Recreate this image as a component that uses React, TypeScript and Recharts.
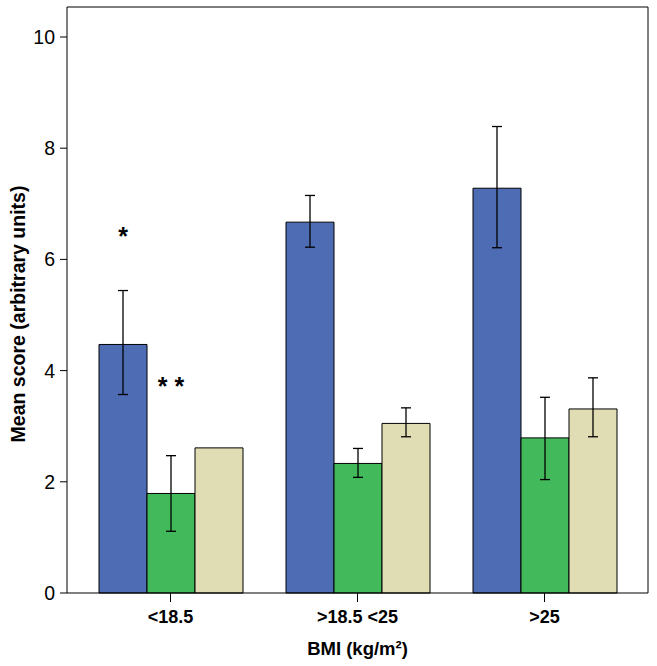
import { Bar, BarChart, ErrorBar, LabelList, XAxis, YAxis } from "recharts";

const groups = ["<18.5", ">18.5 <25", ">25"];

const blueMean = [4.47, 6.67, 7.28];
const blueLow = [3.57, 6.22, 6.21];
const blueHigh = [5.44, 7.15, 8.39];

const greenMean = [1.79, 2.33, 2.79];
const greenLow = [1.11, 2.08, 2.04];
const greenHigh = [2.47, 2.6, 3.52];

// first beige bar has no error bar
const beigeMean = [2.61, 3.05, 3.31];
const beigeLow = [null, 2.81, 2.81];
const beigeHigh = [null, 3.33, 3.87];

// significance markers, placed at a data value
const blueMark = ["*", "", ""];
const blueMarkAt = [6.51, 0, 0];
const greenMark = ["* *", "", ""];
const greenMarkAt = [3.82, 0, 0];

const yTicks = [0, 2, 4, 6, 8, 10];

const errOf = (mean: number, lo: number | null, hi: number | null) =>
  lo == null || hi == null ? undefined : [mean - lo, hi - mean];

const data = groups.map((g, i) => ({
  group: g,
  blue: blueMean[i],
  blueErr: errOf(blueMean[i], blueLow[i], blueHigh[i]),
  green: greenMean[i],
  greenErr: errOf(greenMean[i], greenLow[i], greenHigh[i]),
  beige: beigeMean[i],
  beigeErr: errOf(beigeMean[i], beigeLow[i], beigeHigh[i]),
  blueMark: blueMark[i],
  greenMark: greenMark[i],
}));

const FONT = "'Liberation Sans', Arial, sans-serif";

function markLabel(means: number[], at: number[]) {
  return (props: any) => {
    const { index, value } = props;
    const x = props.x ?? props.viewBox?.x;
    const y = props.y ?? props.viewBox?.y;
    const width = props.width ?? props.viewBox?.width;
    const height = props.height ?? props.viewBox?.height;
    if (!value || index == null) return null;
    const perUnit = height / means[index];
    const cy = y + height - at[index] * perUnit;
    return (
      <text x={x + width / 2} y={cy + 14} textAnchor="middle" fontFamily={FONT} fontWeight="bold" fontSize={25} fill="#000">
        {value}
      </text>
    );
  };
}

function YLabel(props: any) {
  const vb = props.viewBox;
  const cx = 18;
  const cy = vb.y + vb.height / 2 + 14;
  return (
    <text x={cx} y={cy} transform={`rotate(-90 ${cx} ${cy})`} textAnchor="middle" dominantBaseline="central" fontFamily={FONT} fontWeight="bold" fontSize={19.5} fill="#000">
      Mean score (arbitrary units)
    </text>
  );
}

function XLabel(props: any) {
  const vb = props.viewBox;
  return (
    <text x={vb.x + vb.width / 2} y={655} textAnchor="middle" fontFamily={FONT} fontWeight="bold" fontSize={18.5} fill="#000">
      BMI (kg/m²)
    </text>
  );
}

export default function App() {
  return (
    <div style={{ position: "absolute", left: 0, top: 0, background: "#fff" }}>
      <BarChart width={657} height={666} data={data} margin={{ top: 6, right: 8, bottom: 0, left: 0 }} barSize={48} barGap={0}>
        <XAxis
          dataKey="group"
          height={73}
          padding={{ left: 10, right: 10 }}
          stroke="#000"
          tickSize={9}
          tickMargin={8}
          tick={{ fill: "#000", fontSize: 18, fontWeight: "bold", fontFamily: FONT }}
          label={<XLabel />}
        />
        <XAxis xAxisId="top" dataKey="group" orientation="top" height={1} tick={false} tickLine={false} stroke="#000" padding={{ left: 10, right: 10 }} />
        <YAxis
          domain={[0, 10]}
          ticks={yTicks}
          padding={{ top: 30 }}
          width={67}
          stroke="#000"
          tickSize={7}
          tickMargin={5}
          tick={{ fill: "#000", fontSize: 19.5, fontFamily: FONT }}
          label={<YLabel />}
        />
        <YAxis yAxisId="right" orientation="right" domain={[0, 10]} width={1} tick={false} tickLine={false} stroke="#000" />
        <Bar dataKey="blue" fill="#4E6CB4" stroke="#000" strokeWidth={1} isAnimationActive={false}>
          <ErrorBar dataKey="blueErr" width={5} stroke="#000" strokeWidth={1.3} isAnimationActive={false} />
          <LabelList dataKey="blueMark" content={markLabel(blueMean, blueMarkAt)} />
        </Bar>
        <Bar dataKey="green" fill="#42B95A" stroke="#000" strokeWidth={1} isAnimationActive={false}>
          <ErrorBar dataKey="greenErr" width={5} stroke="#000" strokeWidth={1.3} isAnimationActive={false} />
          <LabelList dataKey="greenMark" content={markLabel(greenMean, greenMarkAt)} />
        </Bar>
        <Bar dataKey="beige" fill="#E0DDB4" stroke="#000" strokeWidth={1} isAnimationActive={false}>
          <ErrorBar dataKey="beigeErr" width={5} stroke="#000" strokeWidth={1.3} isAnimationActive={false} />
        </Bar>
      </BarChart>
    </div>
  );
}
